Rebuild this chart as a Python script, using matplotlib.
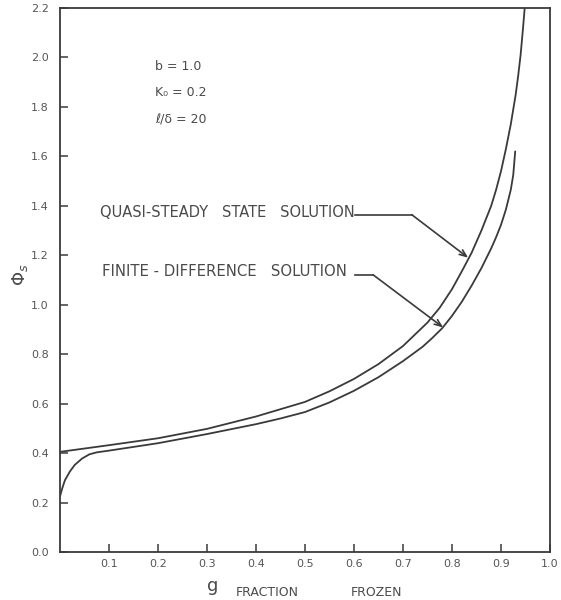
import matplotlib
matplotlib.use("Agg")
import matplotlib.pyplot as plt

# Quasi-steady state solution (upper curve)
x_qs = [0.0, 0.1, 0.2, 0.3, 0.4, 0.5, 0.55, 0.6, 0.65, 0.7, 0.75, 0.775,
        0.8, 0.82, 0.84, 0.86, 0.88, 0.89, 0.9, 0.91, 0.92, 0.93, 0.935,
        0.94, 0.945, 0.95, 0.955]
y_qs = [0.405, 0.432, 0.46, 0.498, 0.548, 0.607, 0.65, 0.70, 0.76, 0.833,
        0.928, 0.988, 1.063, 1.135, 1.21, 1.30, 1.40, 1.465, 1.54, 1.63,
        1.73, 1.85, 1.925, 2.01, 2.12, 2.24, 2.37]

# Finite-difference solution (lower curve)
x_fd = [0.0, 0.005, 0.01, 0.02, 0.03, 0.045, 0.06, 0.075, 0.1, 0.2, 0.3,
        0.4, 0.45, 0.5, 0.55, 0.6, 0.65, 0.7, 0.74, 0.76, 0.78, 0.8, 0.82,
        0.84, 0.86, 0.88, 0.89, 0.9, 0.91, 0.92, 0.925, 0.929]
y_fd = [0.225, 0.26, 0.29, 0.325, 0.352, 0.378, 0.395, 0.403, 0.41, 0.44,
        0.477, 0.517, 0.54, 0.566, 0.605, 0.652, 0.707, 0.772, 0.83, 0.866,
        0.905, 0.955, 1.012, 1.077, 1.148, 1.228, 1.273, 1.323, 1.385,
        1.465, 1.525, 1.62]

x_ticks = [0.1, 0.2, 0.3, 0.4, 0.5, 0.6, 0.7, 0.8, 0.9, 1.0]
x_ticklabels = ["0.1", "0.2", "0.3", "0.4", "0.5", "0.6", "0.7", "0.8", "0.9", "1.0"]
y_ticks = [0.0, 0.2, 0.4, 0.6, 0.8, 1.0, 1.2, 1.4, 1.6, 1.8, 2.0, 2.2]
y_ticklabels = ["0.0", "0.2", "0.4", "0.6", "0.8", "1.0", "1.2", "1.4", "1.6", "1.8", "2.0", "2.2"]

ink = "#3a3a3a"
txt = "#4a4a4a"

fig = plt.figure(figsize=(5.61, 6.0), dpi=100)
ax = fig.add_axes([60 / 561, 48 / 600, 490 / 561, 544 / 600])

ax.plot(x_qs, y_qs, color=ink, lw=1.3, solid_capstyle="round", solid_joinstyle="round")
ax.plot(x_fd, y_fd, color=ink, lw=1.3, solid_capstyle="round", solid_joinstyle="round")

ax.set_xlim(0, 1.0)
ax.set_ylim(0, 2.2)
ax.set_xticks(x_ticks)
ax.set_xticklabels(x_ticklabels)
ax.set_yticks(y_ticks)
ax.set_yticklabels(y_ticklabels)
ax.tick_params(axis="both", direction="in", length=6, width=1.1, colors=ink,
               labelsize=8, labelcolor="#555555")
ax.tick_params(axis="y", pad=8)
ax.tick_params(axis="x", pad=5)
for s in ax.spines.values():
    s.set_color(ink)
    s.set_linewidth(1.3)

# parameters
tkw = dict(color=txt, fontsize=9, ha="left", va="center")
ax.text(0.194, 1.964, "b = 1.0", **tkw)
ax.text(0.194, 1.858, "K₀ = 0.2", **tkw)
ax.text(0.194, 1.749, "ℓ/δ = 20", **tkw)

# labels with leader arrows
ax.text(0.082, 1.372, "QUASI-STEADY   STATE   SOLUTION", color=txt,
        fontsize=10.5, ha="left", va="center")
ax.plot([0.603, 0.718], [1.364, 1.364], color=ink, lw=1.2)
ax.annotate("", xy=(0.833, 1.19), xytext=(0.718, 1.364),
            arrowprops=dict(arrowstyle="->,head_length=0.5,head_width=0.2",
                            color=ink, lw=1.2, shrinkA=0, shrinkB=0))

ax.text(0.086, 1.134, "FINITE - DIFFERENCE   SOLUTION", color=txt,
        fontsize=10.7, ha="left", va="center")
ax.plot([0.603, 0.639], [1.121, 1.121], color=ink, lw=1.2)
ax.annotate("", xy=(0.782, 0.908), xytext=(0.639, 1.121),
            arrowprops=dict(arrowstyle="->,head_length=0.5,head_width=0.2",
                            color=ink, lw=1.2, shrinkA=0, shrinkB=0))

# axis labels
ax.text(-0.082, 0.509, r"$\Phi_s$", transform=ax.transAxes, rotation=90,
        ha="center", va="center", fontsize=13, color=txt)
ax.text(0.312, -0.063, "g", transform=ax.transAxes, ha="center", va="center",
        fontsize=13, color=txt)
ax.text(0.422, -0.074, "FRACTION", transform=ax.transAxes, ha="center",
        va="center", fontsize=9, color=txt)
ax.text(0.645, -0.074, "FROZEN", transform=ax.transAxes, ha="center",
        va="center", fontsize=9, color=txt)

fig.savefig("out.png", dpi=100, facecolor="white")
